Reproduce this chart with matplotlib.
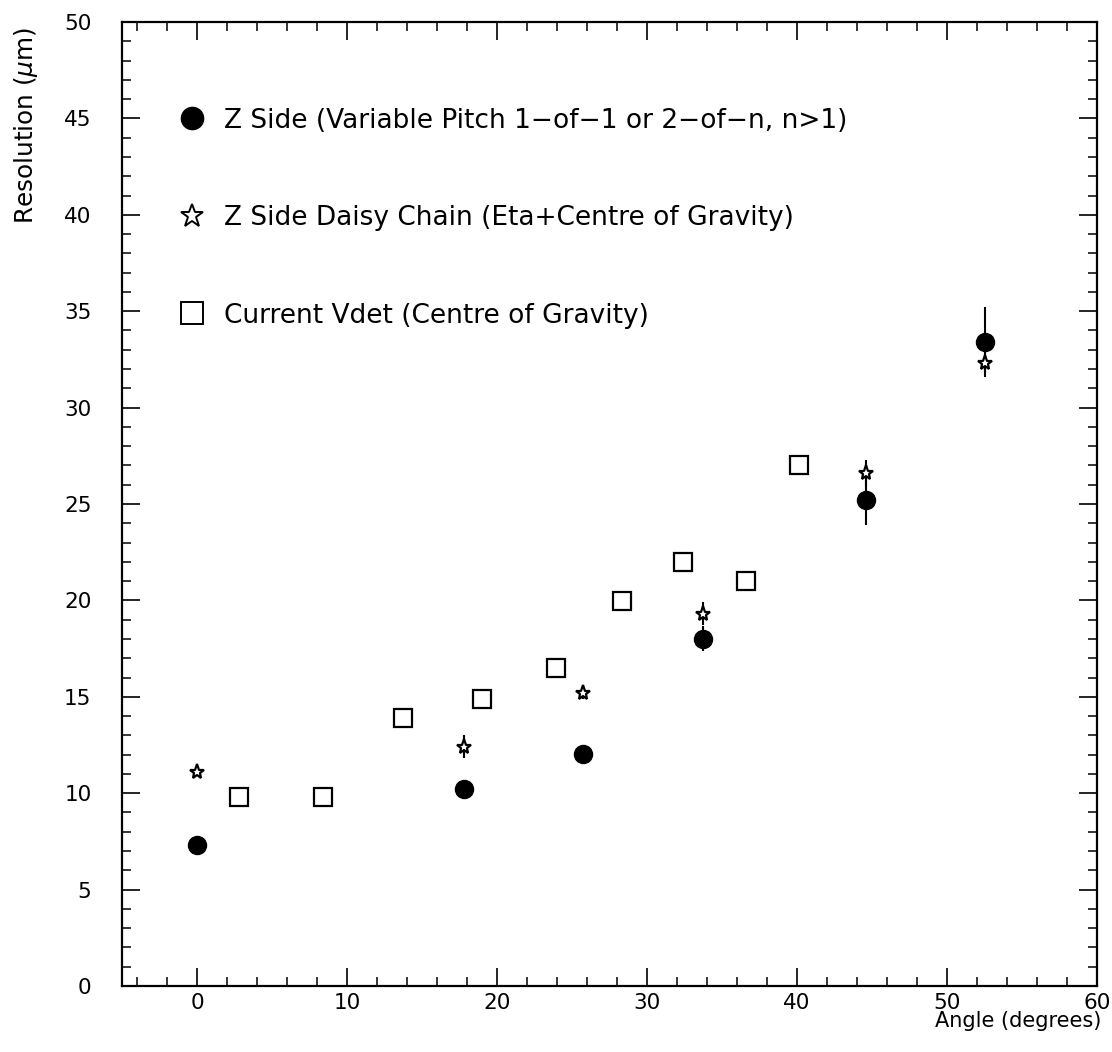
import matplotlib
matplotlib.use("Agg")
import matplotlib.pyplot as plt
from matplotlib.lines import Line2D
from matplotlib.ticker import MultipleLocator

# ---- data ----
zside_x = [0.0, 17.8, 25.7, 33.7, 44.6, 52.5]
zside_y = [7.3, 10.2, 12.05, 18.0, 25.2, 33.4]
zside_err = [0.0, 0.0, 0.0, 0.65, 1.3, 1.8]

daisy_x = [0.0, 17.8, 25.7, 33.7, 44.6, 52.5]
daisy_y = [11.1, 12.4, 15.2, 19.3, 26.6, 32.3]
daisy_err = [0.0, 0.6, 0.3, 0.6, 0.7, 0.5]

vdet_x = [2.8, 8.4, 13.7, 19.0, 23.9, 28.3, 32.4, 36.6, 40.1]
vdet_y = [9.8, 9.8, 13.9, 14.9, 16.5, 19.95, 22.0, 21.0, 27.0]

labels = [
    "Z Side (Variable Pitch 1\u2212of\u22121 or 2\u2212of\u2212n, n>1)",
    "Z Side Daisy Chain (Eta+Centre of Gravity)",
    "Current Vdet (Centre of Gravity)",
]
xlabel = "Angle (degrees)"
ylabel = r"Resolution ($\mu$m)"

W, H = 1112, 1052
fig = plt.figure(figsize=(W / 100, H / 100), dpi=100)
ax = fig.add_axes([122 / W, 1 - 986 / H, (1097 - 122) / W, (986 - 22) / H])

# error bars first
ax.errorbar(zside_x, zside_y, yerr=zside_err, fmt="none", ecolor="black",
            elinewidth=1.5, capsize=0, zorder=2)
ax.errorbar(daisy_x, daisy_y, yerr=daisy_err, fmt="none", ecolor="black",
            elinewidth=1.5, capsize=0, zorder=2)

ax.plot(vdet_x, vdet_y, linestyle="none", marker="s", markersize=13,
        markerfacecolor="white", markeredgecolor="black", markeredgewidth=1.6, zorder=3)
ax.plot(zside_x, zside_y, linestyle="none", marker="o", markersize=13,
        markerfacecolor="black", markeredgecolor="black", zorder=4)
ax.plot(daisy_x, daisy_y, linestyle="none", marker="*", markersize=11,
        markerfacecolor="white", markeredgecolor="black", markeredgewidth=1.6, zorder=5)

ax.set_xlim(-5, 60)
ax.set_ylim(0, 50)
ax.xaxis.set_major_locator(MultipleLocator(10))
ax.xaxis.set_minor_locator(MultipleLocator(2))
ax.yaxis.set_major_locator(MultipleLocator(5))
ax.yaxis.set_minor_locator(MultipleLocator(1))

for s in ax.spines.values():
    s.set_linewidth(1.6)
ax.tick_params(which="both", direction="in", top=True, right=True, color="black")
ax.tick_params(which="major", length=13, width=1.2)
ax.tick_params(which="minor", length=6.5, width=1.1)
ax.tick_params(axis="x", which="major", pad=5, labelsize=15.5)
ax.tick_params(axis="y", which="major", pad=22, labelsize=15.5)

ax.set_xlabel(xlabel, fontsize=15, loc="right")
ax.xaxis.set_label_coords((1101 - 122) / 975, -(1027 - 986) / 964)
ax.xaxis.label.set_va("baseline")
ax.set_ylabel(ylabel, fontsize=17.8, loc="top")
ax.yaxis.set_label_coords(-(122 - 40) / 975, 1 - 5 / 964)

handles = [
    Line2D([], [], linestyle="none", marker="o", markersize=16,
           markerfacecolor="black", markeredgecolor="black"),
    Line2D([], [], linestyle="none", marker="*", markersize=17,
           markerfacecolor="white", markeredgecolor="black", markeredgewidth=1.4),
    Line2D([], [], linestyle="none", marker="s", markersize=16,
           markerfacecolor="white", markeredgecolor="black", markeredgewidth=1.4),
]
ax.legend(handles, labels, loc="upper left",
          bbox_to_anchor=((179 - 122) / 975, 1 - (107.5 - 22) / 964),
          frameon=False, fontsize=19, handlelength=1.0, handletextpad=0.71,
          labelspacing=2.71, borderpad=0, borderaxespad=0)

fig.savefig("out.png", dpi=100)
